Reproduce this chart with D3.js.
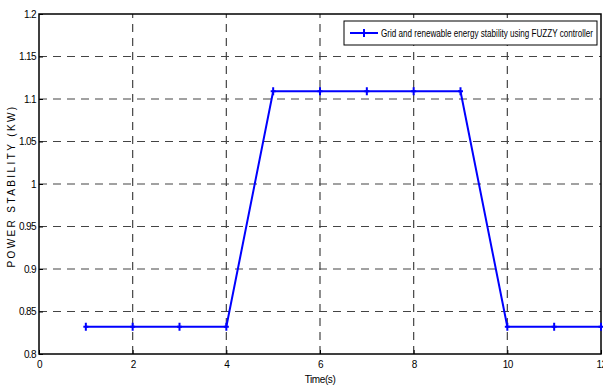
<!DOCTYPE html>
<html>
<head>
<meta charset="utf-8">
<script src="https://cdn.jsdelivr.net/npm/d3@7"></script>
<style>
  body { margin: 0; background: #fff; }
  svg text { font-family: "Liberation Sans", Arial, sans-serif; }
</style>
</head>
<body>
<div id="chart"></div>
<script>
// data
const timeValues = [1, 2, 3, 4, 5, 6, 7, 8, 9, 10, 11, 12];
const stabilityValues = [0.832, 0.832, 0.832, 0.832, 1.109, 1.109, 1.109, 1.109, 1.109, 0.832, 0.832, 0.832];
const xTicks = [0, 2, 4, 6, 8, 10, 12];
const yTicks = [0.8, 0.85, 0.9, 0.95, 1, 1.05, 1.1, 1.15, 1.2];
const seriesName = "Grid and renewable energy stability using FUZZY controller";

const width = 603, height = 388;
const margin = { top: 14, right: 2, bottom: 34, left: 39 };

const svg = d3.select("#chart").append("svg")
  .attr("width", width)
  .attr("height", height);

const x = d3.scaleLinear().domain([0, 12]).range([margin.left, width - margin.right]);
const y = d3.scaleLinear().domain([0.8, 1.2]).range([height - margin.bottom, margin.top]);

// grid
svg.append("g").selectAll("line")
  .data(yTicks.slice(1, -1))
  .enter().append("line")
  .attr("x1", x(0)).attr("x2", x(12))
  .attr("y1", d => y(d)).attr("y2", d => y(d))
  .attr("stroke", "#444").attr("stroke-width", 1.2)
  .attr("stroke-dasharray", "8,6");
svg.append("g").selectAll("line")
  .data(xTicks.slice(1, -1))
  .enter().append("line")
  .attr("y1", y(0.8)).attr("y2", y(1.2))
  .attr("x1", d => x(d)).attr("x2", d => x(d))
  .attr("stroke", "#444").attr("stroke-width", 1.2)
  .attr("stroke-dasharray", "8,6");

// frame
svg.append("rect")
  .attr("x", x(0)).attr("y", y(1.2))
  .attr("width", x(12) - x(0)).attr("height", y(0.8) - y(1.2))
  .attr("fill", "none").attr("stroke", "#000").attr("stroke-width", 1.5);

// axes
const xAxis = svg.append("g")
  .attr("transform", `translate(0,${y(0.8)})`)
  .call(d3.axisBottom(x).tickValues(xTicks).tickSize(-4).tickPadding(7).tickFormat(d3.format("d")));
const yAxis = svg.append("g")
  .attr("transform", `translate(${x(0)},0)`)
  .call(d3.axisLeft(y).tickValues(yTicks).tickSize(-4).tickPadding(3).tickFormat(d => String(+d.toFixed(2))));
[xAxis, yAxis].forEach(g => {
  g.select(".domain").remove();
  g.selectAll("line").attr("stroke", "#000");
  g.selectAll("text").attr("font-size", 10).attr("fill", "#000")
    .attr("letter-spacing", "-0.6px")
    .style("font-family", '"Liberation Sans", Arial, sans-serif');
});

// series
const line = d3.line().x((d, i) => x(timeValues[i])).y(d => y(d));
svg.append("path")
  .datum(stabilityValues)
  .attr("fill", "none").attr("stroke", "#0000ff").attr("stroke-width", 2)
  .attr("d", line);
svg.append("g").selectAll("path")
  .data(stabilityValues)
  .enter().append("path")
  .attr("d", (d, i) => {
    const cx = x(timeValues[i]), cy = y(d);
    return `M${cx - 2.5},${cy}H${cx + 2.5}M${cx},${cy - 4}V${cy + 4}`;
  })
  .attr("stroke", "#0000ff").attr("stroke-width", 2);

// legend
const lg = svg.append("g");
lg.append("rect")
  .attr("x", 344).attr("y", 21).attr("width", 253).attr("height", 24)
  .attr("fill", "#fff").attr("stroke", "#000").attr("stroke-width", 1);
lg.append("line")
  .attr("x1", 350).attr("x2", 378).attr("y1", 33).attr("y2", 33)
  .attr("stroke", "#0000ff").attr("stroke-width", 2);
lg.append("path")
  .attr("d", "M361.5,33H366.5M364,29V37")
  .attr("stroke", "#0000ff").attr("stroke-width", 2);
lg.append("text")
  .attr("x", 381).attr("y", 37)
  .attr("font-size", 11)
  .attr("textLength", 212)
  .attr("lengthAdjust", "spacingAndGlyphs")
  .text(seriesName);

// axis labels
svg.append("text")
  .attr("x", (x(0) + x(12)) / 2).attr("y", 383)
  .attr("text-anchor", "middle").attr("font-size", 10)
  .attr("letter-spacing", "-0.4px")
  .text("Time(s)");
svg.append("text")
  .attr("transform", `translate(15,${(y(0.8) + y(1.2)) / 2 + 2}) rotate(-90)`)
  .attr("text-anchor", "middle").attr("font-size", 10)
  .attr("letter-spacing", "2.4px")
  .text("POWER STABILITY (KW)");
</script>
</body>
</html>
